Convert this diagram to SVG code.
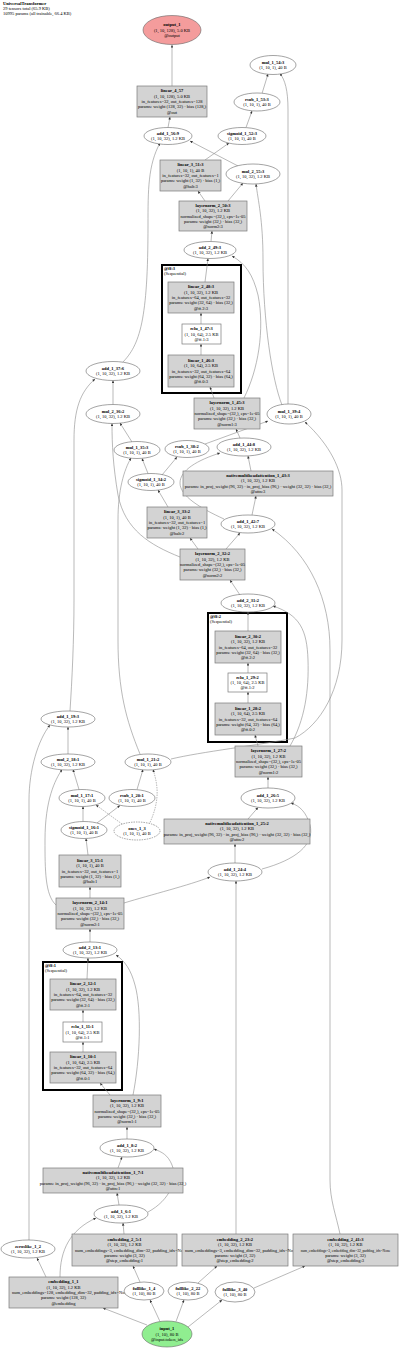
<svg xmlns="http://www.w3.org/2000/svg" width="400" height="1349" viewBox="0 0 400 1349">
<style>
text{font-family:"Liberation Serif","Times New Roman",serif;font-size:4.5px;fill:#000;text-anchor:middle}
.b{font-weight:bold}
.l{text-anchor:start}
.sm{font-size:3.6px}
.box{fill:#d3d3d3;stroke:#7a7a7a;stroke-width:0.7}
.wbox{fill:#fff;stroke:#7a7a7a;stroke-width:0.7}
.ell{fill:#fff;stroke:#666;stroke-width:0.6}
.dash{stroke-dasharray:1.5,1}
.cl{fill:none;stroke:#000;stroke-width:2}
.e path{fill:none;stroke:#8a8a8a;stroke-width:0.6;marker-end:url(#a)}
.e path.d{stroke-dasharray:1.5,1}
</style>
<defs>
<marker id="a" viewBox="0 0 10 10" refX="10" refY="5" markerWidth="3.2" markerHeight="2.6" markerUnits="userSpaceOnUse" orient="auto"><path d="M0,0 L10,5 L0,10 z" fill="#333"/></marker>
</defs>
<rect width="400" height="1349" fill="#fff"/>
<g id="header">
<text class="l b" x="3" y="4.5">UniversalTransformer</text>
<text class="l" x="3" y="9.5">29 tensors total (65.9 KB)</text>
<text class="l" x="3" y="14.5">10995 params (all trainable, 66.4 KB)</text>
</g>
<g id="clusters">
<g id="cluster-ff3"><rect class="cl" x="162" y="265" width="79" height="128"/><text class="l b" x="164" y="270">@ff:3</text><text class="l" x="164" y="275">(Sequential)</text></g>
<g id="cluster-ff2"><rect class="cl" x="208" y="613" width="79" height="129"/><text class="l b" x="210" y="618">@ff:2</text><text class="l" x="210" y="623">(Sequential)</text></g>
<g id="cluster-ff1"><rect class="cl" x="43" y="962" width="79" height="128"/><text class="l b" x="45" y="967">@ff:1</text><text class="l" x="45" y="972">(Sequential)</text></g>
</g>
<g id="edges" class="e">
<path d="M172,86 L172,45"/>
<path d="M168,127.5 L170,117"/>
<path d="M238,166 L190,141"/>
<path d="M122,363 C140,345 148,320 148,225 C148,190 148,165 160,143"/>
<path d="M205,160 L229,143"/>
<path d="M246,127.5 L252,111"/>
<path d="M262,93.5 L268,74"/>
<path d="M205,201 L198,191"/>
<path d="M228,201 L243,183"/>
<path d="M282,405 C272,380 263,320 263,260 C263,220 258,200 256,184"/>
<path d="M288,404 L288,110 C288,90 285,80 280,73.5"/>
<path d="M211,241.5 L212,231"/>
<path d="M205,282 L208,258.5"/>
<path d="M244,398 C258,370 265,330 258,295 C253,275 246,264 232,256"/>
<path d="M201,324 L201,313"/>
<path d="M201,355 L201,344"/>
<path d="M214,398 L210,387"/>
<path d="M240,438 L236,429"/>
<path d="M251,471 L248,456"/>
<path d="M252,515 L256,496"/>
<path d="M224,519 C200,508 180,496 180,483 C180,470 198,460 220,453"/>
<path d="M226,549 L240,533"/>
<path d="M198,549 L190,538"/>
<path d="M180,557 C150,545 125,530 118,495 C113,465 112,445 112,423.5"/>
<path d="M140,754 C126,720 118,690 118,640 L118,520 C118,490 124,470 131,458"/>
<path d="M168,507 L158,490"/>
<path d="M148,473.5 L142,458.5"/>
<path d="M162,475 L177,457"/>
<path d="M132,442 L120,423"/>
<path d="M113,404.5 L113,380.5"/>
<path d="M70,711 C72,680 74,640 74,600 L74,440 C74,410 80,392 95,379"/>
<path d="M205,444 L268,421"/>
<path d="M171,759 C200,752 260,745 295,738 C320,725 342,690 342,640 L342,490 C342,470 330,445 305,422"/>
<path d="M340,1234 C336,1215 330,1200 330,1180 L330,650 C330,600 310,555 272,529"/>
<path d="M240,595 L230,580"/>
<path d="M248,631 L248,612"/>
<path d="M248,673 L248,663"/>
<path d="M248,703 L248,692"/>
<path d="M258,746 L255,735"/>
<path d="M290,746 C305,720 309,690 308,660 C307,630 300,615 273,606"/>
<path d="M268,788 L268,777"/>
<path d="M248,819 L258,807.5"/>
<path d="M235,863 L235,844"/>
<path d="M262,869 C295,860 315,845 310,825 C306,812 300,806 291,803"/>
<path d="M236,1234 L236,881"/>
<path d="M124,903 C150,895 190,885 210,877"/>
<path d="M56,905 C45,895 45,870 45,840 C45,800 55,780 62,769.5"/>
<path d="M88,855 L86,838.5"/>
<path d="M90,898 L90,887"/>
<path d="M83,821.5 L83,806.5"/>
<path d="M97,823 L120,805.5"/>
<path class="d" d="M122,824 L96,805"/>
<path class="d" d="M150,822.5 C160,800 158,785 153,769.5"/>
<path d="M79,789.5 L73,769.5"/>
<path d="M137,789.5 L143,769.5"/>
<path d="M68,754 L68,727"/>
<path d="M29,1240 L29,800 C29,770 38,740 50,725"/>
<path d="M90,942 L90,929"/>
<path d="M87,979 L88,958"/>
<path d="M83,1022 L83,1010"/>
<path d="M83,1052 L83,1042"/>
<path d="M110,1095 L100,1083"/>
<path d="M133,1095 C140,1060 142,1010 135,985 C131,970 125,961 116,955"/>
<path d="M127,1139 L127,1127"/>
<path d="M118,1168 L122,1157"/>
<path d="M119,1205 L117,1193"/>
<path d="M148,1212 C170,1200 178,1180 172,1165 C168,1155 162,1152 154,1149"/>
<path d="M124,1234 L123,1223"/>
<path d="M60,1277 C60,1250 70,1230 96,1218"/>
<path d="M46,1277 L37,1258"/>
<path d="M147,1325 L103,1308"/>
<path d="M160,1321.5 L150,1300"/>
<path d="M176,1321.5 L184,1300"/>
<path d="M188,1327 L222,1300"/>
<path d="M140,1282 L133,1266"/>
<path d="M198,1283 L217,1266"/>
<path d="M254,1288 L305,1266"/>
</g>
<g id="node-output_1"><ellipse cx="172" cy="30" rx="29" ry="14.5" fill="#f49c9c" stroke="#666" stroke-width="0.6"/><text class="b" x="172" y="26.1">output_1</text><text x="172" y="31.5">(1, 10, 128), 5.0 KB</text><text x="172" y="36.9">@output</text></g>
<g id="node-linear_4_57"><rect class="box" x="137" y="86" width="70" height="31"/><text class="b" x="172" y="92.2">linear_4_57</text><text x="172" y="97.6">(1, 10, 128), 5.0 KB</text><text x="172" y="103">in_features=32, out_features=128</text><text x="172" y="108.4">params: weight (128, 32) · bias (128,)</text><text x="172" y="113.8">@out</text></g>
<g id="node-add_1_56_9"><ellipse class="ell" cx="168" cy="136" rx="24" ry="8.5"/><text class="b" x="168" y="134.8">add_1_56:9</text><text x="168" y="140.2">(1, 10, 32), 1.2 KB</text></g>
<g id="node-mul_1_54_3"><ellipse class="ell" cx="273" cy="65" rx="23" ry="9.5"/><text class="b" x="273" y="63.8">mul_1_54:3</text><text x="273" y="69.2">(1, 10, 1), 40 B</text></g>
<g id="node-rsub_1_53_3"><ellipse class="ell" cx="257" cy="102" rx="23" ry="9"/><text class="b" x="257" y="100.8">rsub_1_53:3</text><text x="257" y="106.2">(1, 10, 1), 40 B</text></g>
<g id="node-sigmoid_1_52_3"><ellipse class="ell" cx="242" cy="136" rx="24" ry="8.5"/><text class="b" x="242" y="134.8">sigmoid_1_52:3</text><text x="242" y="140.2">(1, 10, 1), 40 B</text></g>
<g id="node-linear_3_51_3"><rect class="box" x="160" y="160" width="61" height="31"/><text class="b" x="190.5" y="166.2">linear_3_51:3</text><text x="190.5" y="171.6">(1, 10, 1), 40 B</text><text x="190.5" y="177">in_features=32, out_features=1</text><text x="190.5" y="182.4">params: weight (1, 32) · bias (1,)</text><text x="190.5" y="187.8">@halt:3</text></g>
<g id="node-mul_2_55_3"><ellipse class="ell" cx="253" cy="174" rx="27" ry="10"/><text class="b" x="253" y="172.8">mul_2_55:3</text><text x="253" y="178.2">(1, 10, 32), 1.2 KB</text></g>
<g id="node-layernorm_2_50_3"><rect class="box" x="179" y="201" width="68" height="30"/><text class="b" x="213" y="206.7">layernorm_2_50:3</text><text x="213" y="212.1">(1, 10, 32), 1.2 KB</text><text x="213" y="217.5">normalized_shape=(32,), eps=1e-05</text><text x="213" y="222.9">params: weight (32,) · bias (32,)</text><text x="213" y="228.3">@norm2:3</text></g>
<g id="node-add_2_49_3"><ellipse class="ell" cx="210" cy="250" rx="26" ry="8.5"/><text class="b" x="210" y="248.8">add_2_49:3</text><text x="210" y="254.2">(1, 10, 32), 1.2 KB</text></g>
<g id="node-linear_2_48_3"><rect class="box" x="168" y="282" width="66" height="31"/><text class="b" x="201" y="288.2">linear_2_48:3</text><text x="201" y="293.6">(1, 10, 32), 1.2 KB</text><text x="201" y="299">in_features=64, out_features=32</text><text x="201" y="304.4">params: weight (32, 64) · bias (32,)</text><text x="201" y="309.8">@ff.2:3</text></g>
<g id="node-relu_1_47_3"><rect class="wbox" x="182" y="324" width="39" height="20"/><text class="b" x="201.5" y="330.1">relu_1_47:3</text><text x="201.5" y="335.5">(1, 10, 64), 2.5 KB</text><text x="201.5" y="340.9">@ff.1:3</text></g>
<g id="node-linear_1_46_3"><rect class="box" x="168" y="355" width="66" height="32"/><text class="b" x="201" y="361.7">linear_1_46:3</text><text x="201" y="367.1">(1, 10, 64), 2.5 KB</text><text x="201" y="372.5">in_features=32, out_features=64</text><text x="201" y="377.9">params: weight (64, 32) · bias (64,)</text><text x="201" y="383.3">@ff.0:3</text></g>
<g id="node-add_1_37_6"><ellipse class="ell" cx="113" cy="371" rx="27" ry="9.5"/><text class="b" x="113" y="369.8">add_1_37:6</text><text x="113" y="375.2">(1, 10, 32), 1.2 KB</text></g>
<g id="node-layernorm_1_45_3"><rect class="box" x="194" y="398" width="66" height="31"/><text class="b" x="227" y="404.2">layernorm_1_45:3</text><text x="227" y="409.6">(1, 10, 32), 1.2 KB</text><text x="227" y="415">normalized_shape=(32,), eps=1e-05</text><text x="227" y="420.4">params: weight (32,) · bias (32,)</text><text x="227" y="425.8">@norm1:3</text></g>
<g id="node-mul_2_36_2"><ellipse class="ell" cx="113" cy="414" rx="27" ry="9.5"/><text class="b" x="113" y="412.8">mul_2_36:2</text><text x="113" y="418.2">(1, 10, 32), 1.2 KB</text></g>
<g id="node-mul_1_39_4"><ellipse class="ell" cx="289" cy="414" rx="22" ry="10"/><text class="b" x="289" y="412.8">mul_1_39:4</text><text x="289" y="418.2">(1, 10, 1), 40 B</text></g>
<g id="node-mul_1_35_3"><ellipse class="ell" cx="137" cy="450" rx="23" ry="8.5"/><text class="b" x="137" y="448.8">mul_1_35:3</text><text x="137" y="454.2">(1, 10, 1), 40 B</text></g>
<g id="node-rsub_1_38_2"><ellipse class="ell" cx="187" cy="449" rx="22" ry="8.5"/><text class="b" x="187" y="447.8">rsub_1_38:2</text><text x="187" y="453.2">(1, 10, 1), 40 B</text></g>
<g id="node-add_1_44_8"><ellipse class="ell" cx="244" cy="447" rx="27" ry="9"/><text class="b" x="244" y="445.8">add_1_44:8</text><text x="244" y="451.2">(1, 10, 32), 1.2 KB</text></g>
<g id="node-nmha_1_43_3"><rect class="box" x="183" y="471" width="150" height="25"/><text class="b" x="258" y="476.9">nativemultiheadattention_1_43:3</text><text x="258" y="482.3">(1, 10, 32), 1.2 KB</text><text x="258" y="487.7">params: in_proj_weight (96, 32) · in_proj_bias (96,) · weight (32, 32) · bias (32,)</text><text x="258" y="493.1">@attn:3</text></g>
<g id="node-sigmoid_1_34_2"><ellipse class="ell" cx="151" cy="482" rx="23" ry="8.5"/><text class="b" x="151" y="480.8">sigmoid_1_34:2</text><text x="151" y="486.2">(1, 10, 1), 40 B</text></g>
<g id="node-linear_3_33_2"><rect class="box" x="147" y="507" width="60" height="31"/><text class="b" x="177" y="513.2">linear_3_33:2</text><text x="177" y="518.6">(1, 10, 1), 40 B</text><text x="177" y="524">in_features=32, out_features=1</text><text x="177" y="529.4">params: weight (1, 32) · bias (1,)</text><text x="177" y="534.8">@halt:2</text></g>
<g id="node-add_1_42_7"><ellipse class="ell" cx="248" cy="524" rx="27" ry="9"/><text class="b" x="248" y="522.8">add_1_42:7</text><text x="248" y="528.2">(1, 10, 32), 1.2 KB</text></g>
<g id="node-layernorm_2_32_2"><rect class="box" x="180" y="549" width="65" height="31"/><text class="b" x="212.5" y="555.2">layernorm_2_32:2</text><text x="212.5" y="560.6">(1, 10, 32), 1.2 KB</text><text x="212.5" y="566">normalized_shape=(32,), eps=1e-05</text><text x="212.5" y="571.4">params: weight (32,) · bias (32,)</text><text x="212.5" y="576.8">@norm2:2</text></g>
<g id="node-add_2_31_2"><ellipse class="ell" cx="248" cy="603" rx="27" ry="9"/><text class="b" x="248" y="601.8">add_2_31:2</text><text x="248" y="607.2">(1, 10, 32), 1.2 KB</text></g>
<g id="node-linear_2_30_2"><rect class="box" x="215" y="631" width="66" height="32"/><text class="b" x="248" y="637.7">linear_2_30:2</text><text x="248" y="643.1">(1, 10, 32), 1.2 KB</text><text x="248" y="648.5">in_features=64, out_features=32</text><text x="248" y="653.9">params: weight (32, 64) · bias (32,)</text><text x="248" y="659.3">@ff.2:2</text></g>
<g id="node-relu_1_29_2"><rect class="wbox" x="228" y="673" width="39" height="19"/><text class="b" x="247.5" y="678.6">relu_1_29:2</text><text x="247.5" y="684">(1, 10, 64), 2.5 KB</text><text x="247.5" y="689.4">@ff.1:2</text></g>
<g id="node-linear_1_28_2"><rect class="box" x="215" y="703" width="66" height="32"/><text class="b" x="248" y="709.7">linear_1_28:2</text><text x="248" y="715.1">(1, 10, 64), 2.5 KB</text><text x="248" y="720.5">in_features=32, out_features=64</text><text x="248" y="725.9">params: weight (64, 32) · bias (64,)</text><text x="248" y="731.3">@ff.0:2</text></g>
<g id="node-add_1_19_3"><ellipse class="ell" cx="68" cy="719" rx="27" ry="8"/><text class="b" x="68" y="717.8">add_1_19:3</text><text x="68" y="723.2">(1, 10, 32), 1.2 KB</text></g>
<g id="node-layernorm_1_27_2"><rect class="box" x="235" y="746" width="67" height="31"/><text class="b" x="268.5" y="752.2">layernorm_1_27:2</text><text x="268.5" y="757.6">(1, 10, 32), 1.2 KB</text><text x="268.5" y="763">normalized_shape=(32,), eps=1e-05</text><text x="268.5" y="768.4">params: weight (32,) · bias (32,)</text><text x="268.5" y="773.8">@norm1:2</text></g>
<g id="node-mul_2_18_1"><ellipse class="ell" cx="68" cy="762" rx="27" ry="8"/><text class="b" x="68" y="760.8">mul_2_18:1</text><text x="68" y="766.2">(1, 10, 32), 1.2 KB</text></g>
<g id="node-mul_1_21_2"><ellipse class="ell" cx="148" cy="762" rx="23" ry="8"/><text class="b" x="148" y="760.8">mul_1_21:2</text><text x="148" y="766.2">(1, 10, 1), 40 B</text></g>
<g id="node-mul_1_17_1"><ellipse class="ell" cx="82" cy="798" rx="23" ry="8.5"/><text class="b" x="82" y="796.8">mul_1_17:1</text><text x="82" y="802.2">(1, 10, 1), 40 B</text></g>
<g id="node-rsub_1_20_1"><ellipse class="ell" cx="132" cy="798" rx="23" ry="8.5"/><text class="b" x="132" y="796.8">rsub_1_20:1</text><text x="132" y="802.2">(1, 10, 1), 40 B</text></g>
<g id="node-add_1_26_5"><ellipse class="ell" cx="268" cy="798" rx="27" ry="10"/><text class="b" x="268" y="796.8">add_1_26:5</text><text x="268" y="802.2">(1, 10, 32), 1.2 KB</text></g>
<g id="node-sigmoid_1_16_1"><ellipse class="ell" cx="84" cy="830" rx="23" ry="8.5"/><text class="b" x="84" y="828.8">sigmoid_1_16:1</text><text x="84" y="834.2">(1, 10, 1), 40 B</text></g>
<g id="node-ones_1_3"><ellipse class="ell dash" cx="137" cy="831" rx="23" ry="9"/><text class="b" x="137" y="829.8">ones_1_3</text><text x="137" y="835.2">(1, 10, 1), 40 B</text></g>
<g id="node-nmha_1_25_2"><rect class="box" x="164" y="819" width="146" height="25"/><text class="b" x="237" y="824.9">nativemultiheadattention_1_25:2</text><text x="237" y="830.3">(1, 10, 32), 1.2 KB</text><text x="237" y="835.7">params: in_proj_weight (96, 32) · in_proj_bias (96,) · weight (32, 32) · bias (32,)</text><text x="237" y="841.1">@attn:2</text></g>
<g id="node-linear_3_15_1"><rect class="box" x="59" y="855" width="62" height="32"/><text class="b" x="90" y="861.7">linear_3_15:1</text><text x="90" y="867.1">(1, 10, 1), 40 B</text><text x="90" y="872.5">in_features=32, out_features=1</text><text x="90" y="877.9">params: weight (1, 32) · bias (1,)</text><text x="90" y="883.3">@halt:1</text></g>
<g id="node-add_1_24_4"><ellipse class="ell" cx="235" cy="872" rx="27" ry="9"/><text class="b" x="235" y="870.8">add_1_24:4</text><text x="235" y="876.2">(1, 10, 32), 1.2 KB</text></g>
<g id="node-layernorm_2_14_1"><rect class="box" x="56" y="898" width="68" height="31"/><text class="b" x="90" y="904.2">layernorm_2_14:1</text><text x="90" y="909.6">(1, 10, 32), 1.2 KB</text><text x="90" y="915">normalized_shape=(32,), eps=1e-05</text><text x="90" y="920.4">params: weight (32,) · bias (32,)</text><text x="90" y="925.8">@norm2:1</text></g>
<g id="node-add_2_13_1"><ellipse class="ell" cx="90" cy="950" rx="27" ry="8"/><text class="b" x="90" y="948.8">add_2_13:1</text><text x="90" y="954.2">(1, 10, 32), 1.2 KB</text></g>
<g id="node-linear_2_12_1"><rect class="box" x="50" y="979" width="66" height="31"/><text class="b" x="83" y="985.2">linear_2_12:1</text><text x="83" y="990.6">(1, 10, 32), 1.2 KB</text><text x="83" y="996">in_features=64, out_features=32</text><text x="83" y="1001.4">params: weight (32, 64) · bias (32,)</text><text x="83" y="1006.8">@ff.2:1</text></g>
<g id="node-relu_1_11_1"><rect class="wbox" x="63" y="1022" width="39" height="20"/><text class="b" x="82.5" y="1028.1">relu_1_11:1</text><text x="82.5" y="1033.5">(1, 10, 64), 2.5 KB</text><text x="82.5" y="1038.9">@ff.1:1</text></g>
<g id="node-linear_1_10_1"><rect class="box" x="50" y="1052" width="66" height="31"/><text class="b" x="83" y="1058.2">linear_1_10:1</text><text x="83" y="1063.6">(1, 10, 64), 2.5 KB</text><text x="83" y="1069">in_features=32, out_features=64</text><text x="83" y="1074.4">params: weight (64, 32) · bias (64,)</text><text x="83" y="1079.8">@ff.0:1</text></g>
<g id="node-layernorm_1_9_1"><rect class="box" x="93" y="1095" width="68" height="32"/><text class="b" x="127" y="1101.7">layernorm_1_9:1</text><text x="127" y="1107.1">(1, 10, 32), 1.2 KB</text><text x="127" y="1112.5">normalized_shape=(32,), eps=1e-05</text><text x="127" y="1117.9">params: weight (32,) · bias (32,)</text><text x="127" y="1123.3">@norm1:1</text></g>
<g id="node-add_1_8_2"><ellipse class="ell" cx="127" cy="1148" rx="27" ry="9"/><text class="b" x="127" y="1146.8">add_1_8:2</text><text x="127" y="1152.2">(1, 10, 32), 1.2 KB</text></g>
<g id="node-nmha_1_7_1"><rect class="box" x="43" y="1168" width="140" height="25"/><text class="b" x="113" y="1173.9">nativemultiheadattention_1_7:1</text><text x="113" y="1179.3">(1, 10, 32), 1.2 KB</text><text x="113" y="1184.7">params: in_proj_weight (96, 32) · in_proj_bias (96,) · weight (32, 32) · bias (32,)</text><text x="113" y="1190.1">@attn:1</text></g>
<g id="node-add_1_6_1"><ellipse class="ell" cx="121" cy="1214" rx="27" ry="9"/><text class="b" x="121" y="1212.8">add_1_6:1</text><text x="121" y="1218.2">(1, 10, 32), 1.2 KB</text></g>
<g id="node-zeroslike_1_2"><ellipse class="ell" cx="28" cy="1249" rx="27" ry="9"/><text class="b" x="28" y="1247.8">zeroslike_1_2</text><text x="28" y="1253.2">(1, 10, 32), 1.2 KB</text></g>
<g id="node-embedding_2_5_1"><rect class="box" x="72" y="1234" width="105" height="32"/><text class="b" x="124.5" y="1240.7">embedding_2_5:1</text><text x="124.5" y="1246.1">(1, 10, 32), 1.2 KB</text><text class="l" x="75" y="1251.5">num_embeddings=3, embedding_dim=32, padding_idx=None</text><text x="124.5" y="1256.9">params: weight (3, 32)</text><text x="124.5" y="1262.3">@step_embedding:1</text></g>
<g id="node-embedding_2_23_2"><rect class="box" x="182" y="1234" width="106" height="32"/><text class="b" x="235" y="1240.7">embedding_2_23:2</text><text x="235" y="1246.1">(1, 10, 32), 1.2 KB</text><text class="l" x="185" y="1251.5">num_embeddings=3, embedding_dim=32, padding_idx=None</text><text x="235" y="1256.9">params: weight (3, 32)</text><text x="235" y="1262.3">@step_embedding:2</text></g>
<g id="node-embedding_2_41_3"><rect class="box" x="293" y="1234" width="105" height="32"/><text class="b" x="345.5" y="1240.7">embedding_2_41:3</text><text x="345.5" y="1246.1">(1, 10, 32), 1.2 KB</text><text class="sm" x="345.5" y="1251.5">num_embeddings=3, embedding_dim=32, padding_idx=None</text><text x="345.5" y="1256.9">params: weight (3, 32)</text><text x="345.5" y="1262.3">@step_embedding:3</text></g>
<g id="node-embedding_1_1"><rect class="box" x="9" y="1277" width="109" height="31"/><text class="b" x="63.5" y="1283.2">embedding_1_1</text><text x="63.5" y="1288.6">(1, 10, 32), 1.2 KB</text><text class="l" x="12" y="1294">num_embeddings=128, embedding_dim=32, padding_idx=None</text><text x="63.5" y="1299.4">params: weight (128, 32)</text><text x="63.5" y="1304.8">@embedding</text></g>
<g id="node-fulllike_1_4"><ellipse class="ell" cx="144" cy="1291" rx="20" ry="9"/><text class="b" x="144" y="1289.8">fulllike_1_4</text><text x="144" y="1295.2">(1, 10), 80 B</text></g>
<g id="node-fulllike_2_22"><ellipse class="ell" cx="188" cy="1291" rx="20" ry="9"/><text class="b" x="188" y="1289.8">fulllike_2_22</text><text x="188" y="1295.2">(1, 10), 80 B</text></g>
<g id="node-fulllike_3_40"><ellipse class="ell" cx="235" cy="1292" rx="20" ry="10"/><text class="b" x="235" y="1290.8">fulllike_3_40</text><text x="235" y="1296.2">(1, 10), 80 B</text></g>
<g id="node-input_1"><ellipse cx="167" cy="1334" rx="25" ry="13" fill="#90ee90" stroke="#666" stroke-width="0.6"/><text class="b" x="167" y="1330.1">input_1</text><text x="167" y="1335.5">(1, 10), 80 B</text><text x="167" y="1340.9">@input.token_ids</text></g>
</svg>
